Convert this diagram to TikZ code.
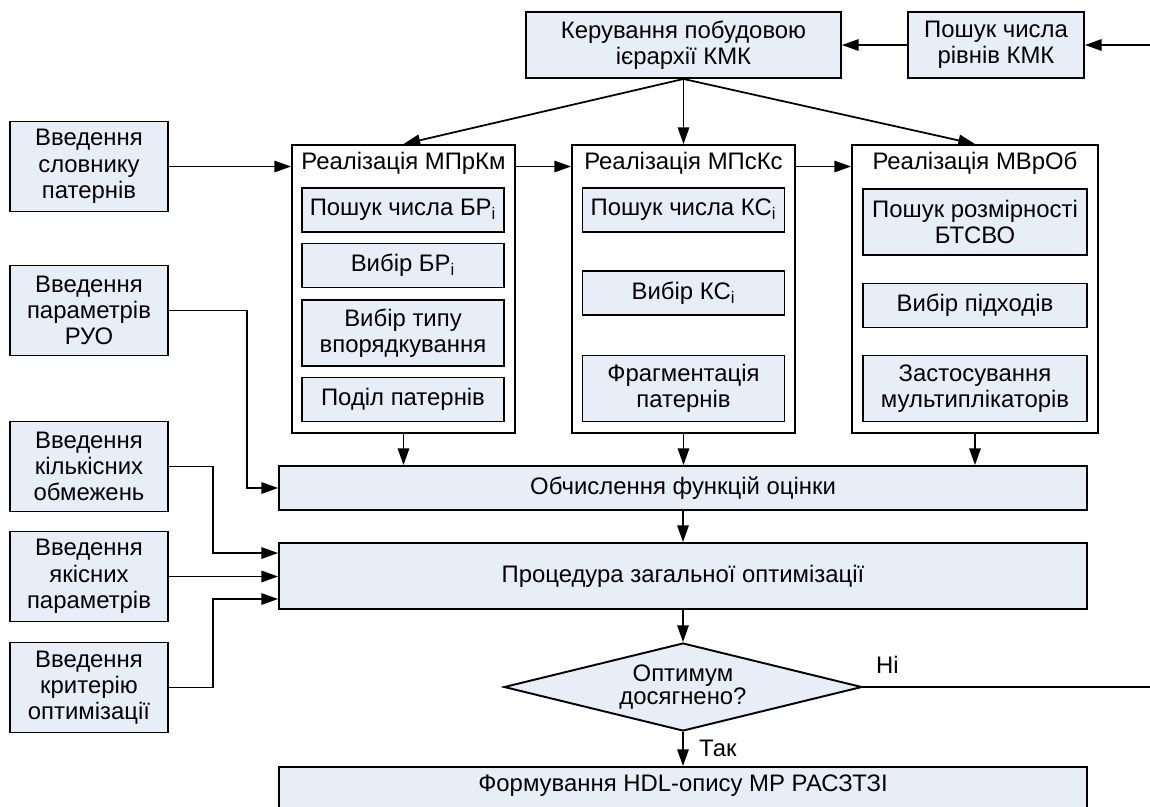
\documentclass[tikz,border=0pt]{standalone}
\usepackage{fontspec}
\setmainfont{Liberation Sans}
\usetikzlibrary{arrows.meta,shapes.geometric}
\definecolor{boxblue}{RGB}{232,238,247}
\tikzset{line/.style={line width=1pt}}
\tikzset{arrow/.style={line, -{Triangle[length=9.5pt,width=6.5pt]}}}
\tikzset{block/.style={draw, line width=1.1pt, fill=boxblue, align=center, inner sep=0pt, font=\fontsize{13.6}{15}\selectfont}}
\tikzset{inbox/.style={block, minimum width=4.04cm, minimum height=0.88cm}}
\tikzset{inbox2/.style={block, minimum width=4.04cm, minimum height=1.32cm}}
\tikzset{input/.style={block, minimum width=3.16cm, minimum height=1.8cm}}
\tikzset{frame/.style={draw, line width=1.1pt, fill=white, minimum height=5.76cm}}
\tikzset{title/.style={font=\fontsize{13.6}{15}\selectfont}}
\tikzset{wide/.style={block, minimum width=16.16cm}}
\tikzset{decision/.style={block, diamond, aspect=4, minimum width=7.16cm, minimum height=1.76cm, font=\fontsize{13.6}{11.5}\selectfont}}
\tikzset{tag/.style={title, anchor=west}}

\begin{document}
\begin{tikzpicture}[x=0.02cm, y=-0.02cm]
\useasboundingbox (0,0) rectangle (1150,806);
\clip (0,0) rectangle (1150,806);
% top row
\node[block, minimum width=6.3cm, minimum height=1.32cm] (ker) at (683.5,45) {Керування побудовою\\ієрархії КМК};
\node[block, minimum width=3.52cm, minimum height=1.32cm] (levels) at (996,45) {Пошук числа\\рівнів КМК};
\coordinate (in) at (1150,45);
% inputs
\node[input] (dict) at (89,166.5) {Введення\\словнику\\патернів};
\node[input] (ruo) at (89,310.5) {Введення\\параметрів\\РУО};
\node[input] (quant) at (89,466.5) {Введення\\кількісних\\обмежень};
\node[input] (qual) at (89,576.5) {Введення\\якісних\\параметрів};
\node[input] (crit) at (89,687.5) {Введення\\критерію\\оптимізації};
% methods
\node[frame, minimum width=4.46cm] (mprkm) at (403.5,289) {};
\node[frame, minimum width=4.46cm] (mpskc) at (683.5,289) {};
\node[frame, minimum width=4.92cm] (mvrob) at (975,289) {};
\node[title] (t1) at (403.5,163) {Реалізація МПрКм};
\node[title] (t2) at (683.5,163) {Реалізація МПсКс};
\node[title] (t3) at (975,163) {Реалізація МВрОб};
\node[inbox] (p1) at (403,210) {Пошук числа БР\textsubscript{i}};
\node[inbox] (p2) at (403,265.5) {Вибір БР\textsubscript{i}};
\node[inbox2] (p3) at (403,333) {Вибір типу\\впорядкування};
\node[inbox] (p4) at (403,399.5) {Поділ патернів};
\node[inbox] (s1) at (683.5,210) {Пошук числа КС\textsubscript{i}};
\node[inbox] (s2) at (683.5,293) {Вибір КС\textsubscript{i}};
\node[inbox2] (s3) at (683.5,388.5) {Фрагментація\\патернів};
\node[inbox2, minimum width=4.48cm] (v1) at (975,222) {Пошук розмірності\\БТСВО};
\node[inbox, minimum width=4.48cm] (v2) at (975,305.5) {Вибір підходів};
\node[inbox2, minimum width=4.48cm] (v3) at (975,388.5) {Застосування\\мультиплікаторів};
% optimisation
\node[wide, minimum height=0.88cm] (eval) at (683,488) {Обчислення функцій оцінки};
\node[wide, minimum height=1.32cm] (opt) at (683,576) {Процедура загальної оптимізації};
\node[decision] (done) at (683,687) {Оптимум\\досягнено?};
\node[wide, anchor=north, text height=0.5cm, text depth=0.6cm] (hdl) at (683,766) {Формування HDL-опису МР РАСЗТЗІ};
\node[tag] (no) at (870,665) {Ні};
\node[tag] (yes) at (693,748) {Так};
\coordinate (out) at (1150,687);
% connectors
\draw[arrow] (in) -- (levels);
\draw[arrow] (levels) -- (ker);
\draw[arrow] (ker.south) -- (mprkm.north);
\draw[arrow] (ker.south) -- (mpskc.north);
\draw[arrow] (ker.south) -- (mvrob.north);
\draw[arrow] (dict.east) -- (dict.east -| mprkm.west);
\draw[arrow] (mprkm.east |- dict.east) -- (mpskc.west |- dict.east);
\draw[arrow] (mpskc.east |- dict.east) -- (mvrob.west |- dict.east);
\draw[arrow] (mprkm.south) -- (mprkm.south |- eval.north);
\draw[arrow] (mpskc.south) -- (mpskc.south |- eval.north);
\draw[arrow] (mvrob.south) -- (mvrob.south |- eval.north);
\draw[arrow] (ruo.east) -- ++(78,0) |- (eval.west);
\draw[arrow] (quant.east) -- ++(44,0) |- ([yshift=0.46cm]opt.west);
\draw[arrow] (qual.east) -- (qual.east -| opt.west);
\draw[arrow] (crit.east) -- ++(44,0) |- ([yshift=-0.46cm]opt.west);
\draw[arrow] (eval) -- (opt);
\draw[arrow] (opt) -- (done);
\draw[arrow] (done) -- (hdl);
\draw[line] (done.east) -- (out);
\end{tikzpicture}
\end{document}
